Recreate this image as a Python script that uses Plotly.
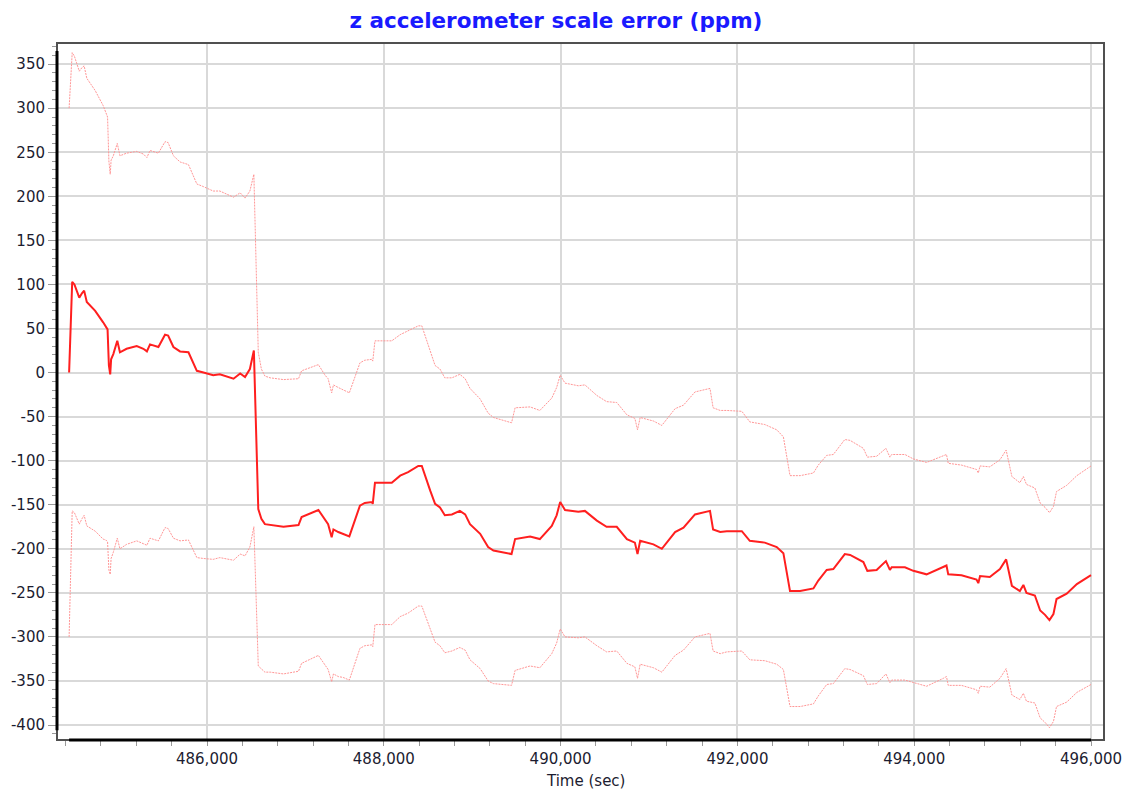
import plotly.graph_objects as go

# Time (sec)
time = [
    484440, 484475, 484500, 484555, 484585, 484610, 484640, 484735, 484825, 484855,
    484875, 484890, 484905, 484915, 484940, 484985, 485015, 485090, 485205, 485280,
    485320, 485355, 485450, 485525, 485560, 485620, 485695, 485790, 485885, 485960,
    486070, 486145, 486300, 486375, 486430, 486485, 486530, 486580, 486615, 486655,
    486715, 486865, 487035, 487070, 487260, 487335, 487370, 487410, 487430, 487485,
    487540, 487610, 487730, 487785, 487865, 487875, 487900, 488090, 488185, 488275,
    488390, 488430, 488525, 488580, 488635, 488690, 488770, 488860, 488920, 488975,
    489090, 489180, 489240, 489350, 489445, 489485, 489655, 489765, 489900, 489955,
    489995, 490050, 490200, 490275, 490410, 490520, 490635, 490750, 490840, 490870,
    490900, 491050, 491145, 491295, 491390, 491520, 491595, 491690, 491725, 491805,
    491880, 492050, 492140, 492310, 492445, 492520, 492595, 492710, 492860, 492915,
    493010, 493085, 493215, 493275, 493425, 493470, 493575, 493680, 493725, 493745,
    493895, 493990, 494140, 494330, 494365, 494385, 494535, 494705, 494725, 494745,
    494855, 494970, 495040, 495105, 495195, 495235, 495270, 495365, 495425, 495480,
    495530, 495575, 495610, 495725, 495840, 496000,
]

# Estimated scale error (ppm)
scale_error = [
    0, 103, 100, 85, 90, 93, 80, 70, 57, 53,
    49, 8, -2, 15, 21, 36, 23, 27, 30, 27,
    24, 32, 29, 43, 42, 29, 24, 23, 2, 0,
    -3, -2, -7, -1, -5, 4, 25, -155, -166, -172,
    -173, -175, -173, -164, -156, -168, -172, -187, -178, -181,
    -183, -186, -151, -148, -147, -149, -125, -125, -117, -113,
    -106, -106, -134, -149, -153, -162, -161, -157, -161, -172,
    -183, -198, -202, -204, -206, -189, -186, -189, -174, -162,
    -147, -156, -158, -157, -168, -175, -175, -189, -193, -206,
    -191, -195, -200, -181, -176, -161, -159, -157, -178, -181,
    -180, -180, -191, -193, -198, -205, -248, -248, -245, -236,
    -224, -223, -206, -207, -215, -225, -224, -214, -224, -221,
    -221, -225, -229, -221, -219, -229, -230, -235, -239, -231,
    -232, -223, -212, -242, -248, -241, -250, -253, -270, -275,
    -281, -274, -257, -251, -240, -230,
]

# Uncertainty half-width of the bounds (ppm)
half_width = [
    300, 260, 259, 257, 256, 255, 254, 250, 246, 243,
    241, 232, 227, 226, 225, 224, 223, 222, 221, 221,
    220, 220, 220, 219, 219, 217, 215, 213, 212, 211,
    209, 208, 206, 205, 203, 202, 200, 178, 170, 168,
    167, 167, 166, 166, 165, 165, 165, 164, 164, 164,
    163, 163, 162, 162, 162, 162, 161, 161, 160, 160,
    159, 159, 158, 157, 157, 156, 155, 155, 154, 154,
    153, 152, 151, 150, 149, 149, 147, 146, 145, 145,
    144, 144, 143, 143, 142, 142, 141, 141, 141, 141,
    140, 140, 140, 140, 139, 139, 139, 139, 138, 138,
    137, 136, 135, 134, 133, 132, 131, 131, 131, 131,
    130, 130, 130, 130, 129, 129, 129, 128, 128, 128,
    128, 127, 127, 126, 126, 126, 125, 125, 125, 125,
    125, 124, 124, 124, 123, 123, 123, 122, 122, 122,
    122, 122, 122, 123, 123, 124,
]

# Axis ticks
y_tick_values = [350, 300, 250, 200, 150, 100, 50, 0, -50, -100, -150,
                 -200, -250, -300, -350, -400]
y_tick_labels = ["350", "300", "250", "200", "150", "100", "50", "0", "-50",
                 "-100", "-150", "-200", "-250", "-300", "-350", "-400"]
x_tick_values = [486000, 488000, 490000, 492000, 494000, 496000]
x_tick_labels = ["486,000", "488,000", "490,000", "492,000", "494,000", "496,000"]

assert len(time) == len(scale_error) == len(half_width)

upper = [c + h for c, h in zip(scale_error, half_width)]
lower = [c - h for c, h in zip(scale_error, half_width)]

bound_color = "#ff9696"
main_color = "#ff1f1f"

fig = go.Figure()
fig.add_trace(go.Scatter(x=time, y=upper, mode="lines",
                         line=dict(color=bound_color, width=1, dash="2px,1px"),
                         hoverinfo="skip"))
fig.add_trace(go.Scatter(x=time, y=lower, mode="lines",
                         line=dict(color=bound_color, width=1, dash="2px,1px"),
                         hoverinfo="skip"))
fig.add_trace(go.Scatter(x=time, y=scale_error, mode="lines",
                         line=dict(color=main_color, width=2)))

tick_font = dict(family="DejaVu Sans", size=15, color="#1c1c30")

# the page body has an 8px margin, so the figure is drawn 8px in from the corner
W, H = 1128, 786

fig.update_layout(
    width=W, height=H,
    margin=dict(l=49, r=32, t=35, b=54, autoexpand=False),
    paper_bgcolor="white", plot_bgcolor="white",
    showlegend=False,
    title=dict(text="<b>z accelerometer scale error (ppm)</b>",
               font=dict(family="DejaVu Sans", size=21.5, color="#1a1aff"),
               x=548 / W, xref="container", xanchor="center",
               y=1 - 12 / H, yref="container", yanchor="middle"),
    xaxis=dict(range=[484303, 496147], tickmode="array",
               tickvals=x_tick_values, ticktext=x_tick_labels,
               ticks="outside", ticklen=5, tickwidth=1,
               tickcolor="#999999", tickfont=tick_font, automargin=False,
               showgrid=True, gridcolor="#d9d9d9", gridwidth=2,
               zeroline=False, showline=False,
               minor=dict(dtick=400, tick0=486000, ticks="outside", ticklen=5,
                          tickcolor="#999999", showgrid=False)),
    yaxis=dict(range=[-417, 374], tickmode="array",
               tickvals=y_tick_values, ticktext=y_tick_labels,
               ticks="outside", ticklen=8, tickwidth=1,
               tickcolor="#999999", tickfont=tick_font, automargin=False,
               showgrid=True, gridcolor="#d9d9d9", gridwidth=2,
               zeroline=False, showline=False,
               minor=dict(dtick=10, tick0=0, ticks="outside", ticklen=4,
                          tickcolor="#999999", showgrid=False)),
    annotations=[dict(text="Time (sec)", xref="paper", yref="paper",
                      x=(585 - 57) / 1047, y=-41 / 697, xanchor="center",
                      yanchor="middle", showarrow=False,
                      font=dict(family="DejaVu Sans", size=15, color="#1c1c30"))],
    shapes=[
        dict(type="rect", xref="paper", yref="paper", x0=0, y0=0, x1=1, y1=1,
             line=dict(color="#505050", width=2), layer="above"),
        dict(type="line", xref="paper", yref="y", x0=0, x1=0, y0=-406, y1=365,
             line=dict(color="black", width=3), layer="above"),
        dict(type="line", xref="x", yref="paper", x0=484440, x1=496000, y0=0, y1=0,
             line=dict(color="black", width=3), layer="above"),
    ],
)

fig.write_html("out.html")
